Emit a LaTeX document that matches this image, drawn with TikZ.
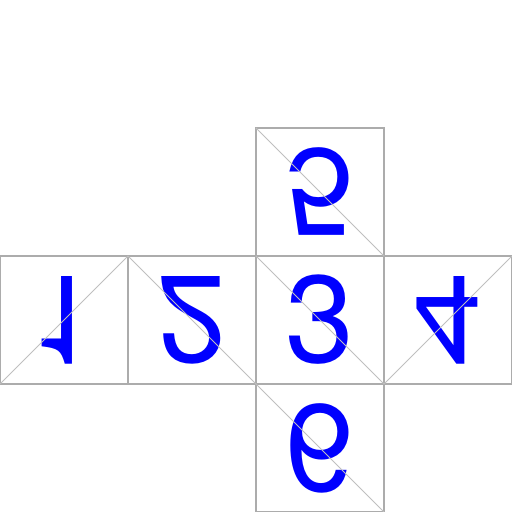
\documentclass[tikz,border=0pt]{standalone}
\usepackage{fontspec}
\setmainfont{TeX Gyre Heros}
\tikzset{
    face/.style={draw=gray!65, line width=0.5pt, minimum size=2cm,
        inner sep=0pt, outer sep=0pt, text=blue,
        font=\fontsize{55}{60}\selectfont},
    fold/.style={gray!50, line width=0.4pt}
}
\newcommand{\upside}[1]{\scalebox{1}[-1]{#1}}
\def\side{2}

\begin{document}
\begin{tikzpicture}
    \useasboundingbox (0, 0) rectangle (4*\side, 4*\side);
    \draw
        node[face] (top) at (2.5*\side, 2.5*\side) {\upside{5}}
        node[face] (one) at (0.5*\side, 1.5*\side) {\upside{1}}
        node[face] (two) at (1.5*\side, 1.5*\side) {\upside{2}}
        node[face] (mid) at (2.5*\side, 1.5*\side) {3}
        node[face] (four) at (3.5*\side, 1.5*\side) {\upside{4}}
        node[face] (bot) at (2.5*\side, 0.5*\side) {\upside{6}}
    ;
    \draw
        [fold]
        (top.north west) -- (top.south east)
        (one.south west) -- (one.north east)
        (two.north west) -- (two.south east)
        (mid.north west) -- (mid.south east)
        (four.south west) -- (four.north east)
        (bot.north west) -- (bot.south east)
    ;
\end{tikzpicture}
\end{document}
